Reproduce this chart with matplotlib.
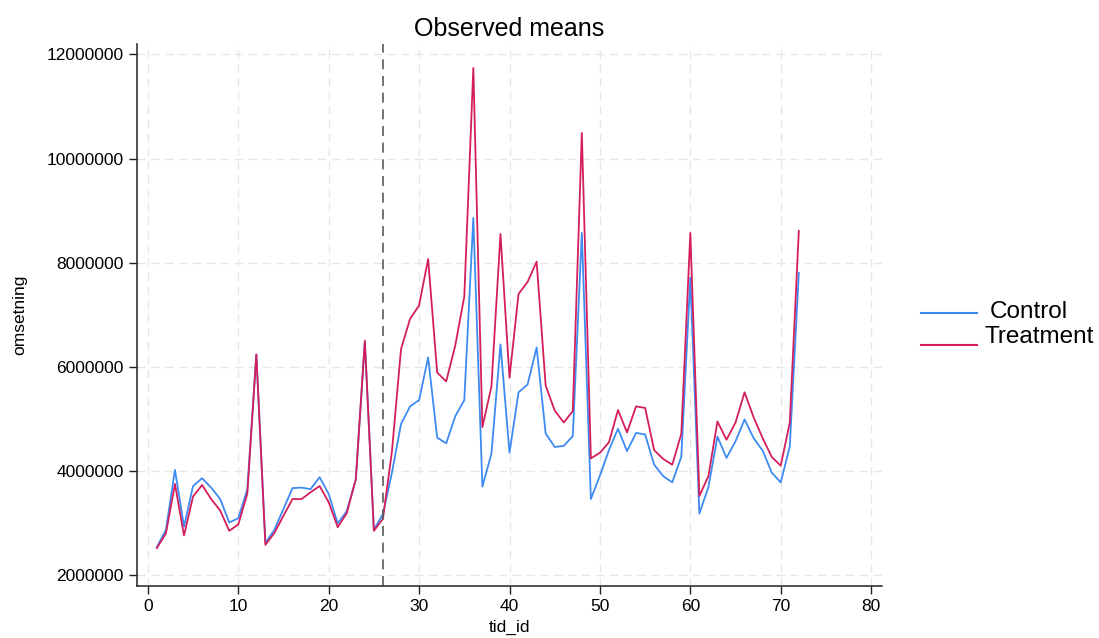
import matplotlib.pyplot as plt
from matplotlib.lines import Line2D
import numpy as np

plt.rcParams['font.family'] = ['Liberation Sans', 'DejaVu Sans']

tid_id = np.arange(1, 73)

# mean omsetning per period, in millions
control = [2.54, 2.87, 4.02, 2.93, 3.71, 3.86, 3.68, 3.46, 3.01, 3.09,
           3.65, 6.23, 2.62, 2.87, 3.27, 3.67, 3.68, 3.65, 3.88, 3.56,
           2.99, 3.23, 3.83, 6.48, 2.87, 3.17, 3.97, 4.90, 5.24, 5.36,
           6.18, 4.64, 4.53, 5.05, 5.36, 8.86, 3.70, 4.33, 6.43, 4.35,
           5.51, 5.66, 6.37, 4.72, 4.46, 4.48, 4.67, 8.57, 3.46, 3.91,
           4.40, 4.81, 4.38, 4.73, 4.70, 4.12, 3.90, 3.78, 4.27, 7.71,
           3.18, 3.69, 4.66, 4.25, 4.57, 4.99, 4.63, 4.39, 3.97, 3.78,
           4.47, 7.80]
treatment = [2.52, 2.80, 3.75, 2.76, 3.51, 3.73, 3.46, 3.24, 2.85, 2.97,
             3.56, 6.24, 2.58, 2.81, 3.14, 3.46, 3.46, 3.59, 3.71, 3.40,
             2.92, 3.19, 3.84, 6.50, 2.85, 3.08, 4.38, 6.34, 6.92, 7.18,
             8.07, 5.89, 5.72, 6.41, 7.35, 11.74, 4.84, 5.62, 8.55, 5.79,
             7.40, 7.63, 8.02, 5.64, 5.16, 4.93, 5.15, 10.49, 4.24, 4.35,
             4.55, 5.17, 4.74, 5.24, 5.21, 4.40, 4.23, 4.12, 4.71, 8.57,
             3.52, 3.90, 4.95, 4.60, 4.93, 5.51, 5.03, 4.63, 4.27, 4.10,
             4.93, 8.61]
control = np.array(control) * 1e6
treatment = np.array(treatment) * 1e6

xticks = np.arange(0, 81, 10)
yticks = np.arange(2000000, 12000001, 2000000)
cutoff = 26
blue, red = '#3D8BF2', '#D41E5C'

W, H = 1099, 638
fig = plt.figure(figsize=(W / 100, H / 100), dpi=100)
ax = fig.add_axes([137 / W, 52 / H, 745 / W, 542 / H])

ax.plot(tid_id, control, color=blue, lw=1.3)
ax.plot(tid_id, treatment, color=red, lw=1.3)
ax.axvline(cutoff, color='#5a5a5a', lw=1.2, ls=(0, (6, 4)))

ax.set_xlim(-1.2, 81.2)
ax.set_ylim(1.79e6, 12.2e6)
ax.set_xticks(xticks)
ax.set_yticks(yticks)
ax.set_yticklabels([str(v) for v in yticks])
ax.grid(True, color='#e6e6e6', ls=(0, (6, 4)), lw=1)
ax.set_axisbelow(True)

for s in ['top', 'right']:
    ax.spines[s].set_visible(False)
for s in ['left', 'bottom']:
    ax.spines[s].set_color('#222222')
    ax.spines[s].set_linewidth(1.1)
ax.tick_params(labelsize=12.5, length=6, width=1, color='#222222')

ax.set_xlabel('tid_id', fontsize=12.5, labelpad=4)
ax.set_ylabel('omsetning', fontsize=12.5, labelpad=14)
ax.set_title('Observed means', fontsize=18, pad=6)

# legend drawn by hand: handles sit a bit lower than the labels, as in the original
fig.add_artist(Line2D([921 / W, 977 / W], [1 - 313 / H, 1 - 313 / H], color=blue, lw=1.5))
fig.add_artist(Line2D([921 / W, 977 / W], [1 - 345 / H, 1 - 345 / H], color=red, lw=1.5))
fig.text(990 / W, 1 - 312 / H, 'Control', fontsize=17.5, va='center', ha='left')
fig.text(984 / W, 1 - 337 / H, 'Treatment', fontsize=17.5, va='center', ha='left')

fig.savefig('out.png', dpi=100)
